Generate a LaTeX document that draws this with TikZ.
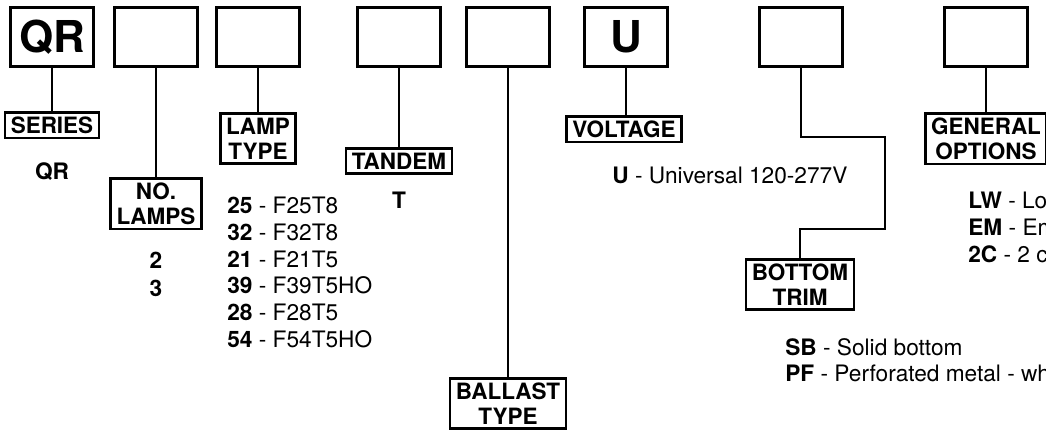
\documentclass[tikz,border=0pt]{standalone}
\usepackage{fontspec}
\setmainfont{TeX Gyre Heros}
\tikzset{
  codebox/.style={draw, line width=1.6pt, minimum width=1.65cm, minimum height=1.19cm,
    inner sep=0pt, font=\bfseries\fontsize{25}{30}\selectfont},
  labelbox/.style={draw, line width=1.5pt, anchor=north, align=center,
    inner xsep=3.3pt, inner ysep=2.5pt, font=\bfseries\fontsize{12.8}{14.2}\selectfont},
  entry/.style={anchor=west, inner sep=0pt, font=\fontsize{12.9}{15}\selectfont},
  code/.style={inner sep=0pt, font=\bfseries\fontsize{12.9}{15}\selectfont}
}
\begin{document}
\begin{tikzpicture}[x=0.02cm, y=-0.02cm]
      \useasboundingbox (0,0) rectangle (1046,432);
      \clip (0,0) rectangle (1046,432);
      \draw
        (52,37) node[codebox] (0){QR}
        (156,37) node[codebox] (1){}
        (258,37) node[codebox] (2){}
        (399,37) node[codebox] (3){}
        (508,37) node[codebox] (4){}
        (626,37) node[codebox] (5){U}
        (801,37) node[codebox] (6){}
        (986,37) node[codebox] (7){};
      \draw
        (52,111) node[labelbox] (series){SERIES}
        (156,177) node[labelbox] (lamps){NO.\\LAMPS}
        (258,112) node[labelbox] (lamptype){LAMP\\TYPE}
        (399,147) node[labelbox] (tandem){TANDEM}
        (508,377) node[labelbox] (ballast){BALLAST\\TYPE}
        (624,115) node[labelbox] (voltage){VOLTAGE}
        (800,258) node[labelbox] (trim){BOTTOM\\TRIM}
        (986,112) node[labelbox] (options){GENERAL\\OPTIONS};
      \coordinate (trimA) at (885,137);
      \coordinate (trimB) at (885,229);
      \begin{scope}[line width=1.5pt]
        \draw (0) to (series);
        \draw (1) to (lamps);
        \draw (2) to (lamptype);
        \draw (3) to (tandem);
        \draw (4) to (ballast);
        \draw (5.south) -- (5.south |- voltage.north);
        \draw (6.south) |- (trimA) -- (trimB) -| (trim.north);
        \draw (7) to (options);
      \end{scope}
      % codes under each label
      \node[code] (qr) at (52,172) {QR};
      \node[code] (n2) at (156,260) {2};
      \node[code] (n3) at (156,288) {3};
      \node[code] (t) at (399,200) {T};
      \node[entry] (l25) at (227,205) {\textbf{25} - F25T8};
      \node[entry] (l32) at (227,232) {\textbf{32} - F32T8};
      \node[entry] (l21) at (227,259) {\textbf{21} - F21T5};
      \node[entry] (l39) at (227,285) {\textbf{39} - F39T5HO};
      \node[entry] (l28) at (227,312) {\textbf{28} - F28T5};
      \node[entry] (l54) at (227,339) {\textbf{54} - F54T5HO};
      \node[entry] (u) at (612,175) {\textbf{U} - Universal 120-277V};
      \node[entry] (sb) at (785,347) {\textbf{SB} - Solid bottom};
      \node[entry] (pf) at (785,373) {\textbf{PF} - Perforated metal - wh};
      \node[entry] (lw) at (968,200) {\textbf{LW} - Lo};
      \node[entry] (em) at (968,227) {\textbf{EM} - Em};
      \node[entry] (2c) at (968,254) {\textbf{2C} - 2 c};
    \end{tikzpicture}
\end{document}
